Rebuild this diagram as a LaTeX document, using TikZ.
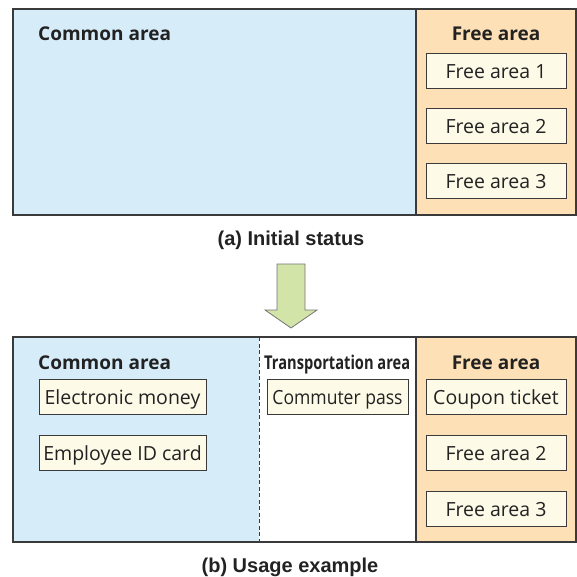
\documentclass[tikz,border=0pt]{standalone}
\usepackage{fontspec}
\usepackage{graphicx}
\setmainfont{Open Sans}
\newfontfamily\capfont{Liberation Sans}
\definecolor{commonblue}{HTML}{D6ECF9}
\definecolor{freeorange}{HTML}{FDE0B6}
\definecolor{slotcream}{HTML}{FEFAE8}
\definecolor{edgegray}{HTML}{3A3A3A}
\definecolor{arrowgreen}{HTML}{D3E4A9}
\definecolor{inkgray}{HTML}{222222}
\tikzset{
  panel/.style={draw=edgegray, line width=1.1pt},
  slot/.style={draw=edgegray, line width=0.9pt, fill=slotcream, minimum width=140pt,
    minimum height=35pt, inner sep=0pt, text=inkgray, text height=15pt, text depth=0pt,
    font=\fontsize{19.5}{22}\selectfont},
  areatitle/.style={font=\fontsize{19}{22}\selectfont\bfseries, inner sep=0pt,
    text height=14.5pt, text depth=0pt, text=inkgray},
  caption/.style={font=\fontsize{20}{22}\selectfont\capfont\bfseries, inner sep=0pt, text=inkgray},
}
\begin{document}
\begin{tikzpicture}[x=1pt, y=-1pt]
\useasboundingbox (0,0) rectangle (577,576);

% ---- (a) initial status ----
\fill[commonblue] (13,9) rectangle (416,215);
\fill[freeorange] (416,9) rectangle (576,215);
\draw[panel] (416,9) -- (416,215);
\draw[panel] (13,9) rectangle (576,215);
\node[areatitle, anchor=west] (ca1) at (38,33) {Common area};
\node[areatitle] (fa1) at (496,33) {Free area};
\node[slot] (s11) at (496,71) {Free area 1};
\node[slot] (s12) at (496,126) {Free area 2};
\node[slot] (s13) at (496,181) {Free area 3};
\node[caption] (capa) at (291,240) {(a) Initial status};

% ---- transition arrow ----
\draw[edgegray!70, line width=0.8pt, fill=arrowgreen]
  (277,264) -- (305,264) -- (305,310) -- (317,310) -- (291,328)
  -- (265,310) -- (277,310) -- cycle;

% ---- (b) usage example ----
\fill[commonblue] (13,337) rectangle (259,542);
\fill[white] (259,337) rectangle (416,542);
\fill[freeorange] (416,337) rectangle (576,542);
\draw[edgegray, line width=0.9pt, dash pattern=on 4pt off 2.5pt] (259,337) -- (259,542);
\draw[panel] (416,337) -- (416,542);
\draw[panel] (13,337) rectangle (576,542);
\node[areatitle, anchor=west] (ca2) at (38,362) {Common area};
\node[areatitle, anchor=west] (ta2) at (264,362)
  {\scalebox{0.77}[1]{Transportation area}};
\node[areatitle] (fa2) at (496,362) {Free area};
\node[slot, minimum width=167pt] (em) at (122.5,397) {Electronic money};
\node[slot, minimum width=167pt] (id) at (122.5,453) {Employee ID card};
\node[slot, minimum width=141pt] (cp) at (337.5,397) {\scalebox{0.9}[1]{Commuter pass}};
\node[slot] (ct) at (496,397) {Coupon ticket};
\node[slot] (s22) at (496,453) {Free area 2};
\node[slot] (s23) at (496,509) {Free area 3};
\node[caption] (capb) at (290,567) {(b) Usage example};
\end{tikzpicture}
\end{document}
